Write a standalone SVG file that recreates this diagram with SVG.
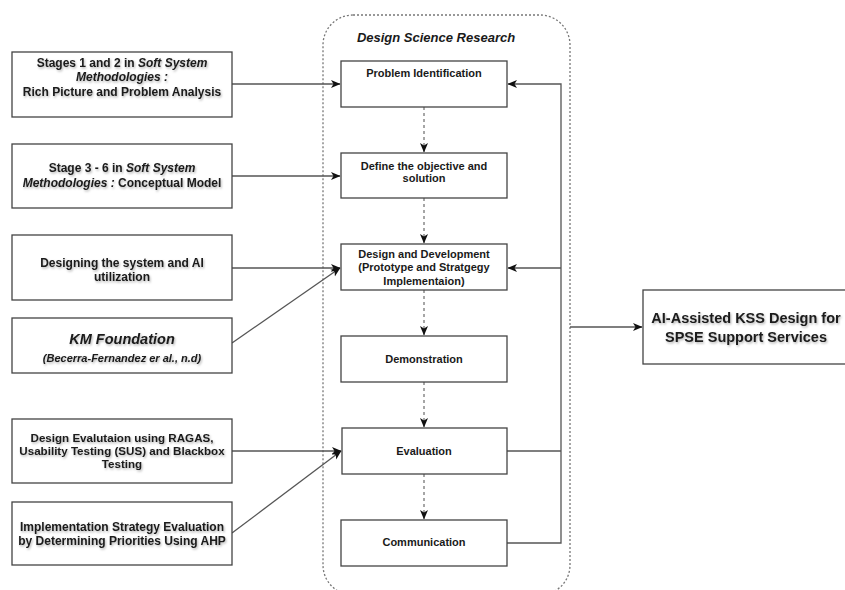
<svg xmlns="http://www.w3.org/2000/svg" width="845" height="590" viewBox="0 0 845 590">
<style>
  .box { fill: #ffffff; stroke: #444444; stroke-width: 1.3; }
  .t { font-family: "Liberation Sans", Arial, sans-serif; font-weight: bold; fill: #1a1a1a; text-anchor: middle; }
  .s12 { font-size: 12px; }
  .s11 { font-size: 11px; }
  .it { font-style: italic; }
  .sh { filter: url(#shadow); }
  .line { fill: none; stroke: #555555; stroke-width: 1.3; }
  .dline { fill: none; stroke: #777777; stroke-width: 1.3; stroke-dasharray: 3 3; }
  .cont { fill: none; stroke: #777777; stroke-width: 1.3; stroke-dasharray: 2 2; }
</style>
<defs>
  <filter id="shadow" x="-10%" y="-30%" width="120%" height="160%">
    <feDropShadow dx="1" dy="1.5" stdDeviation="1" flood-color="#000000" flood-opacity="0.3"/>
  </filter>
  <marker id="arr" markerWidth="10" markerHeight="10" refX="9" refY="5" orient="auto" markerUnits="userSpaceOnUse">
    <path d="M0,1 L9.5,5 L0,9 L2.5,5 z" fill="#111111"/>
  </marker>
</defs>
<rect width="845" height="590" fill="#ffffff"/>

<g id="container">
  <rect class="cont" x="323" y="15" width="247" height="580" rx="30" ry="30"/>
  <text class="t it" x="436" y="42" font-size="13">Design Science Research</text>
</g>

<g id="connectors">
  <line class="line" x1="232" y1="84" x2="340" y2="84" marker-end="url(#arr)"/>
  <line class="line" x1="232" y1="176" x2="340" y2="176" marker-end="url(#arr)"/>
  <line class="line" x1="232" y1="268" x2="340" y2="268" marker-end="url(#arr)"/>
  <line class="line" x1="232" y1="343" x2="340" y2="268" marker-end="url(#arr)"/>
  <line class="line" x1="232" y1="451" x2="341" y2="451" marker-end="url(#arr)"/>
  <line class="line" x1="232" y1="533" x2="341" y2="451" marker-end="url(#arr)"/>
  <line class="dline" x1="424" y1="107" x2="424" y2="152" marker-end="url(#arr)"/>
  <line class="dline" x1="424" y1="198" x2="424" y2="243" marker-end="url(#arr)"/>
  <line class="dline" x1="424" y1="290" x2="424" y2="335" marker-end="url(#arr)"/>
  <line class="dline" x1="424" y1="382" x2="424" y2="427" marker-end="url(#arr)"/>
  <line class="dline" x1="424" y1="474" x2="424" y2="519" marker-end="url(#arr)"/>
  <path class="line" d="M507,543 H561 V84 H508" marker-end="url(#arr)" stroke="#333333"/>
  <line class="line" x1="561" y1="268" x2="508" y2="268" marker-end="url(#arr)"/>
  <line class="line" x1="507" y1="451" x2="561" y2="451" stroke="#333333"/>
  <line class="line" x1="570" y1="327" x2="642" y2="327" marker-end="url(#arr)" stroke="#333333"/>
</g>

<g id="in1">
  <rect class="box" x="12" y="52" width="220" height="65"/>
  <text class="t s12 sh" x="122" y="67">Stages 1 and 2 in <tspan class="it">Soft System</tspan></text>
  <text class="t s12 sh it" x="122" y="81">Methodologies :</text>
  <text class="t s12 sh" x="122" y="96">Rich Picture and Problem Analysis</text>
</g>
<g id="in2">
  <rect class="box" x="12" y="144" width="220" height="64"/>
  <text class="t s12 sh" x="122" y="172">Stage 3 - 6 in <tspan class="it">Soft System</tspan></text>
  <text class="t s12 sh" x="122" y="187"><tspan class="it">Methodologies :</tspan> Conceptual Model</text>
</g>
<g id="in3">
  <rect class="box" x="12" y="235" width="220" height="65"/>
  <text class="t s12 sh" x="122" y="267">Designing the system and AI</text>
  <text class="t s12 sh" x="122" y="281">utilization</text>
</g>
<g id="in4">
  <rect class="box" x="12" y="318" width="220" height="55"/>
  <text class="t it sh" x="122" y="344" font-size="14.5">KM Foundation</text>
  <text class="t s11 it sh" x="122" y="362">(Becerra-Fernandez er al., n.d)</text>
</g>
<g id="in5">
  <rect class="box" x="12" y="419" width="220" height="64"/>
  <text class="t sh" x="122" y="442" font-size="11.6">Design Evalutaion using RAGAS,</text>
  <text class="t sh" x="122" y="455" font-size="11.6">Usability Testing (SUS) and Blackbox</text>
  <text class="t sh" x="122" y="468" font-size="11.6">Testing</text>
</g>
<g id="in6">
  <rect class="box" x="12" y="502" width="220" height="63"/>
  <text class="t s12 sh" x="122" y="531">Implementation Strategy Evaluation</text>
  <text class="t s12 sh" x="122" y="545">by Determining Priorities Using AHP</text>
</g>

<g id="problem">
  <rect class="box" x="341" y="61" width="166" height="46"/>
  <text class="t s11" x="424" y="77">Problem Identification</text>
</g>
<g id="define">
  <rect class="box" x="341" y="153" width="166" height="45"/>
  <text class="t s11" x="424" y="170">Define the objective and</text>
  <text class="t s11" x="424" y="182">solution</text>
</g>
<g id="design">
  <rect class="box" x="341" y="244" width="166" height="46"/>
  <text class="t s11" x="424" y="258">Design and Development</text>
  <text class="t s11" x="424" y="271">(Prototype and Stratgegy</text>
  <text class="t s11" x="424" y="285">Implementaion)</text>
</g>
<g id="demo">
  <rect class="box" x="341" y="336" width="166" height="46"/>
  <text class="t s11" x="424" y="363">Demonstration</text>
</g>
<g id="eval">
  <rect class="box" x="342" y="428" width="165" height="46"/>
  <text class="t s11" x="424" y="455">Evaluation</text>
</g>
<g id="comm">
  <rect class="box" x="341" y="520" width="166" height="46"/>
  <text class="t s11" x="424" y="546">Communication</text>
</g>

<g id="output">
  <rect class="box" x="643" y="290" width="212" height="74"/>
  <text class="t sh" x="746" y="323" font-size="14.5">AI-Assisted KSS Design for</text>
  <text class="t sh" x="746" y="342" font-size="14.5">SPSE Support Services</text>
</g>
</svg>
